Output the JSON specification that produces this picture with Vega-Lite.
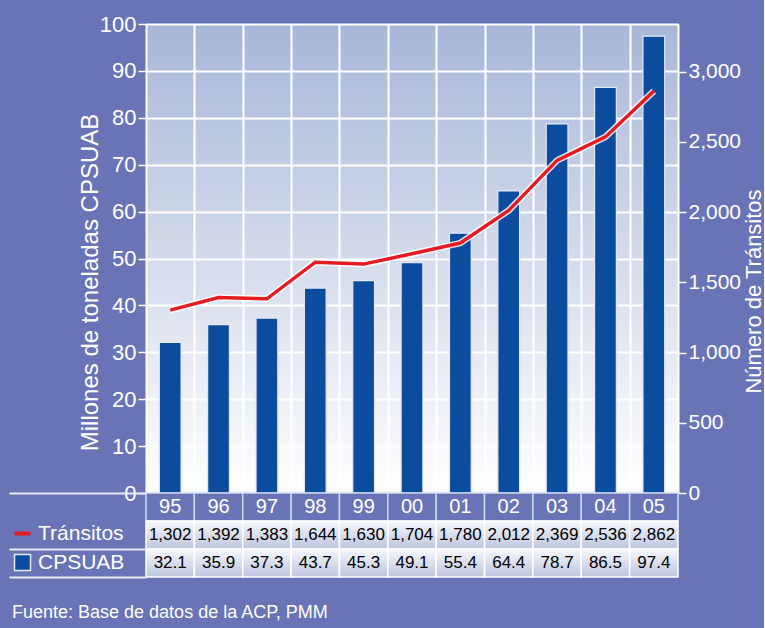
{
  "$schema": "https://vega.github.io/schema/vega-lite/v6.json",
  "background": "#6874b6",
  "padding": {"left": 8, "top": 13, "right": 0, "bottom": 7},
  "bounds": "flush",
  "spacing": 0,
  "title": {"text": "Fuente: Base de datos de la ACP, PMM", "orient": "bottom", "anchor": "start", "color": "white", "fontSize": 18, "fontWeight": "normal", "font": "Liberation Sans", "offset": 26, "dx": 4},
  "datasets": {
    "main": [
      {"year": "95", "cpsuab": 32.1, "transitos": 1302},
      {"year": "96", "cpsuab": 35.9, "transitos": 1392},
      {"year": "97", "cpsuab": 37.3, "transitos": 1383},
      {"year": "98", "cpsuab": 43.7, "transitos": 1644},
      {"year": "99", "cpsuab": 45.3, "transitos": 1630},
      {"year": "00", "cpsuab": 49.1, "transitos": 1704},
      {"year": "01", "cpsuab": 55.4, "transitos": 1780},
      {"year": "02", "cpsuab": 64.4, "transitos": 2012},
      {"year": "03", "cpsuab": 78.7, "transitos": 2369},
      {"year": "04", "cpsuab": 86.5, "transitos": 2536},
      {"year": "05", "cpsuab": 97.4, "transitos": 2862}
    ]
  },
  "data": {"name": "main"},
  "resolve": {"scale": {"x": "independent", "y": "independent"}},
  "config": {"view": {"stroke": null}, "font": "Liberation Sans"},
  "vconcat": [
    {
      "width": 532,
      "height": 469,
      "view": {"fill": {"gradient": "linear", "x1": 0, "y1": 0, "x2": 0, "y2": 1, "stops": [{"offset": 0, "color": "#a8b7d9"}, {"offset": 0.5, "color": "#d4dbeb"}, {"offset": 1, "color": "#ffffff"}]}},
      "encoding": {
        "x": {"field": "year", "type": "nominal", "scale": {"domain": ["95","96","97","98","99","00","01","02","03","04","05"], "paddingInner": 0, "paddingOuter": 0},
              "axis": {"orient": "bottom", "labels": false, "ticks": false, "domain": false, "title": null, "grid": true, "gridColor": "white", "gridWidth": 2, "gridOpacity": 1, "tickBand": "extent"}}
      },
      "layer": [
        {
          "mark": {"type": "bar", "width": {"band": 0.45}, "stroke": "#e4e9f4", "strokeWidth": 1.2},
          "encoding": {
            "y": {"field": "cpsuab", "type": "quantitative", "scale": {"domain": [0, 100], "nice": false},
                  "axis": {"orient": "left", "title": "Millones de toneladas CPSUAB", "titleColor": "white", "titleFontSize": 24, "titleFontWeight": "normal", "titleAngle": 270, "titleX": -56, "titleY": 258, "titleAlign": "center", "titleBaseline": "middle",
                           "values": [0,10,20,30,40,50,60,70,80,90,100], "labelColor": "white", "labelFontSize": 22, "labelPadding": 2, "tickColor": "white", "tickSize": 8, "tickWidth": 1.5, "domain": false, "grid": true, "gridColor": "white", "gridWidth": 2, "gridOpacity": 1}},
            "fill": {"datum": "CPSUAB", "type": "nominal",
                     "scale": {"domain": ["CPSUAB"], "range": ["#0b4c9f"]},
                     "legend": {"orient": "none", "legendX": -134, "legendY": 528, "title": null, "labelColor": "white", "labelFontSize": 21, "labelFont": "Liberation Sans", "labelOffset": 5, "symbolType": "square", "symbolSize": 256, "symbolOpacity": 1,
                                "encode": {"symbols": {"stroke": {"value": "white"}, "strokeWidth": {"value": 2}}}}}
          }
        },
        {
          "encoding": {
            "y": {"field": "transitos", "type": "quantitative", "scale": {"domain": [0, 3340], "nice": false},
                  "axis": {"orient": "right", "title": "Número de Tránsitos", "titleColor": "white", "titleFontSize": 22, "titleFontWeight": "normal", "titleAngle": 270, "titleX": 75, "titleY": 267, "titleAlign": "center", "titleBaseline": "middle",
                           "values": [0,500,1000,1500,2000,2500,3000], "format": ",.0f", "labelColor": "white", "labelFontSize": 21, "labelPadding": 2, "tickColor": "white", "tickSize": 8, "tickWidth": 1.5, "domain": false, "grid": false}},
            "order": {"value": null}
          },
          "layer": [
            {"mark": {"type": "line", "color": "white", "strokeWidth": 6.5, "opacity": 0.85}, "encoding": {}},
            {"mark": {"type": "line", "strokeWidth": 3.5},
             "encoding": {"stroke": {"datum": "Tránsitos", "type": "nominal",
                                     "scale": {"domain": ["Tránsitos"], "range": ["#e41b23"]},
                                     "legend": {"orient": "none", "legendX": -134, "legendY": 499, "title": null, "labelColor": "white", "labelFontSize": 21, "labelFont": "Liberation Sans", "labelOffset": 5, "symbolType": "stroke", "symbolSize": 256, "symbolStrokeWidth": 4, "symbolOpacity": 1}}}}
          ]
        }
      ],
      "resolve": {"scale": {"y": "independent"}}
    },
    {
      "width": 532,
      "height": 84,
      "encoding": {
        "x": {"field": "year", "type": "nominal", "scale": {"domain": ["95","96","97","98","99","00","01","02","03","04","05"], "paddingInner": 0, "paddingOuter": 0}, "axis": null}
      },
      "layer": [
        {
          "mark": {"type": "rect", "fill": "#6874b6", "stroke": "#d0d5ec", "strokeWidth": 1.5},
          "encoding": {"y": {"datum": "yr", "type": "nominal", "scale": {"domain": ["yr", "Tránsitos", "CPSUAB"], "paddingInner": 0, "paddingOuter": 0},
                             "axis": {"orient": "left", "labels": false, "domain": false, "title": null, "grid": false, "tickBand": "extent", "tickSize": 137, "tickWidth": 2,
                                      "tickColor": {"condition": {"test": "datum.value === 'yr'", "value": "transparent"}, "value": "#e6e9f5"}}}}
        },
        {
          "mark": {"type": "rect", "fill": {"gradient": "linear", "x1": 0, "y1": 0, "x2": 0, "y2": 1, "stops": [{"offset": 0, "color": "#f7f8fc"}, {"offset": 1, "color": "#bcc5de"}]}, "stroke": "white", "strokeWidth": 1.5},
          "encoding": {"y": {"datum": "Tránsitos", "type": "nominal"}}
        },
        {
          "mark": {"type": "rect", "fill": {"gradient": "linear", "x1": 0, "y1": 0, "x2": 0, "y2": 1, "stops": [{"offset": 0, "color": "#f7f8fc"}, {"offset": 1, "color": "#bcc5de"}]}, "stroke": "white", "strokeWidth": 1.5},
          "encoding": {"y": {"datum": "CPSUAB", "type": "nominal"}}
        },
        {
          "mark": {"type": "text", "color": "white", "fontSize": 20, "font": "Liberation Sans", "baseline": "middle"},
          "encoding": {"y": {"datum": "yr", "type": "nominal"}, "text": {"field": "year", "type": "nominal"}}
        },
        {
          "mark": {"type": "text", "color": "black", "fontSize": 17, "font": "Liberation Sans", "baseline": "middle"},
          "encoding": {"y": {"datum": "Tránsitos", "type": "nominal"}, "text": {"field": "transitos", "type": "quantitative", "format": ","}}
        },
        {
          "mark": {"type": "text", "color": "black", "fontSize": 17, "font": "Liberation Sans", "baseline": "middle"},
          "encoding": {"y": {"datum": "CPSUAB", "type": "nominal"}, "text": {"field": "cpsuab", "type": "quantitative", "format": ".1f"}}
        }
      ]
    }
  ]
}
